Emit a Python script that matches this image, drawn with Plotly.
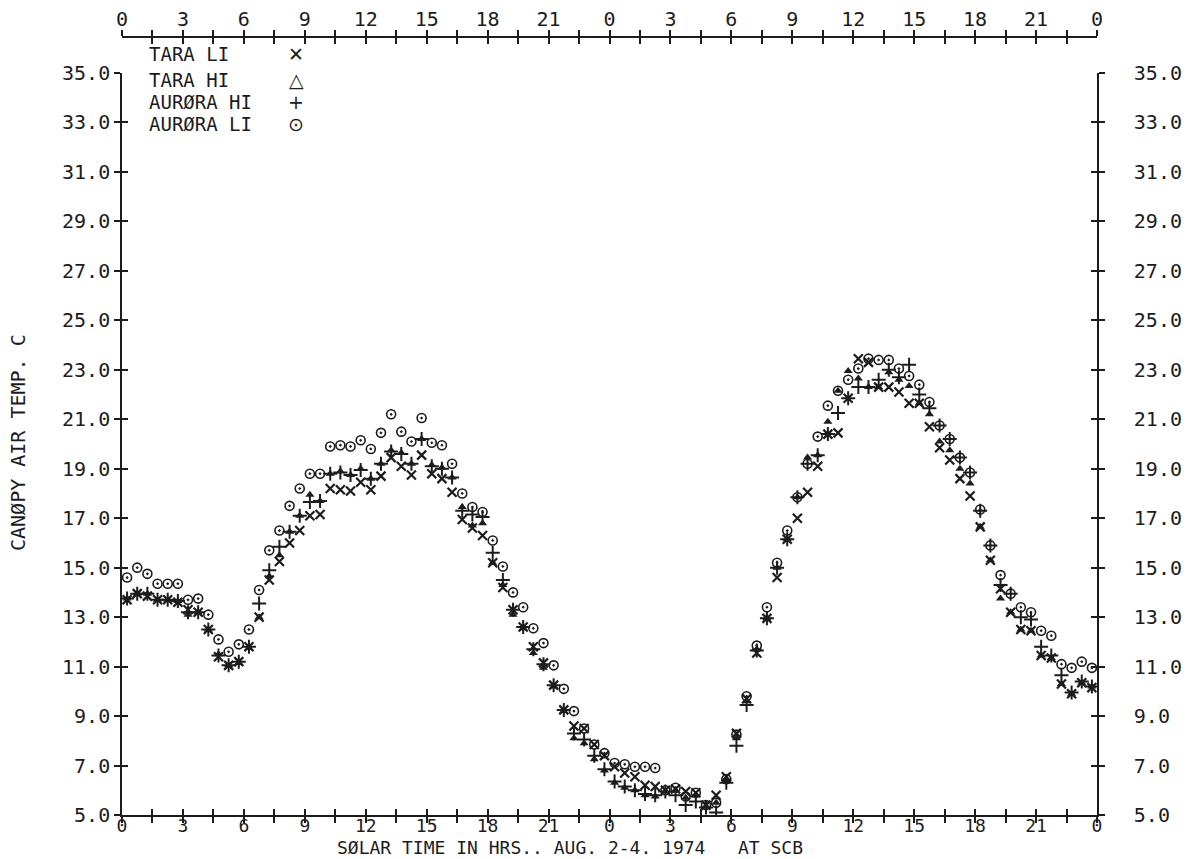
import plotly.graph_objects as go

# ---------------- data ----------------
hours = [0.25, 0.75, 1.25, 1.75, 2.25, 2.75, 3.25, 3.75, 4.25, 4.75,
         5.25, 5.75, 6.25, 6.75, 7.25, 7.75, 8.25, 8.75, 9.25, 9.75,
         10.25, 10.75, 11.25, 11.75, 12.25, 12.75, 13.25, 13.75, 14.25, 14.75,
         15.25, 15.75, 16.25, 16.75, 17.25, 17.75, 18.25, 18.75, 19.25, 19.75,
         20.25, 20.75, 21.25, 21.75, 22.25, 22.75, 23.25, 23.75, 24.25, 24.75,
         25.25, 25.75, 26.25, 26.75, 27.25, 27.75, 28.25, 28.75, 29.25, 29.75,
         30.25, 30.75, 31.25, 31.75, 32.25, 32.75, 33.25, 33.75, 34.25, 34.75,
         35.25, 35.75, 36.25, 36.75, 37.25, 37.75, 38.25, 38.75, 39.25, 39.75,
         40.25, 40.75, 41.25, 41.75, 42.25, 42.75, 43.25, 43.75, 44.25, 44.75,
         45.25, 45.75, 46.25, 46.75, 47.25, 47.75]

tara_li = [13.7, 13.95, 13.85, 13.7, 13.7, 13.6, 13.3, 13.2, 12.5, 11.4,
           11.05, 11.2, 11.8, 13.0, 14.5, 15.25, 16.0, 16.5, 17.1, 17.15,
           18.2, 18.15, 18.1, 18.45, 18.15, 18.7, 19.45, 19.1, 18.75, 19.55,
           18.8, 18.6, 18.05, 16.95, 16.6, 16.3, 15.2, 14.2, 13.3, 12.6,
           11.8, 11.15, 10.25, 9.25, 8.6, 8.5, 7.85, 7.4, 6.95, 6.7,
           6.55, 6.2, 6.15, 6.0, 6.05, 5.95, 5.9, 5.4, 5.8, 6.55,
           8.3, 9.7, 11.55, 12.95, 14.6, 16.15, 17.0, 18.05, 19.1, 20.4,
           20.45, 21.85, 23.45, 23.3, 22.3, 22.3, 22.1, 21.65, 21.65, 20.7,
           19.85, 19.35, 18.6, 17.9, 16.65, 15.3, 14.15, 13.2, 12.5, 12.45,
           11.45, 11.35, 10.3, 9.9, 10.35, 10.15]

tara_hi = [13.75, 13.95, 13.95, 13.7, 13.7, 13.65, 13.1, 13.2, 12.5, 11.5,
           11.05, 11.15, 11.75, 13.0, 14.65, 15.5, 16.45, 17.1, 17.95, 17.7,
           18.8, 18.9, 18.75, 19.0, 18.6, 19.2, 19.75, 19.65, 19.2, 20.2,
           19.15, 19.05, 18.65, 17.45, 16.7, 16.8, 15.2, 14.3, 13.1, 12.55,
           11.55, 10.95, 10.2, 9.2, 8.1, 7.9, 7.25, 6.8, 6.3, 6.1,
           6.0, 5.8, 5.75, 5.95, 6.0, 5.7, 5.8, 5.35, 5.5, 6.4,
           8.1, 9.6, 11.7, 12.95, 15.0, 16.15, 17.85, 19.45, 19.55, 20.9,
           22.15, 22.95, 22.65, 22.3, 22.3, 22.9, 22.6, 22.35, 21.65, 21.2,
           20.1, 19.75, 19.0, 18.4, 16.65, 15.3, 13.75, 13.2, 12.5, 12.45,
           11.45, 11.35, 10.3, 9.9, 10.35, 10.2]

aurora_hi = [13.75, 13.95, 13.95, 13.7, 13.7, 13.65, 13.2, 13.2, 12.5, 11.45,
             11.05, 11.2, 11.8, 13.55, 14.9, 15.85, 16.45, 17.1, 17.65, 17.7,
             18.8, 18.85, 18.75, 18.95, 18.6, 19.2, 19.7, 19.6, 19.2, 20.2,
             19.1, 19.0, 18.65, 17.3, 17.15, 17.05, 15.6, 14.5, 13.3, 12.6,
             11.7, 11.1, 10.25, 9.25, 8.3, 8.05, 7.4, 6.85, 6.35, 6.15,
             6.0, 5.85, 5.8, 5.95, 5.8, 5.4, 5.55, 5.3, 5.1, 6.3,
             7.8, 9.45, 11.65, 12.95, 15.0, 16.15, 17.85, 19.2, 19.55, 20.4,
             21.25, 21.85, 22.3, 22.3, 22.6, 23.0, 22.7, 23.2, 22.0, 21.45,
             20.75, 20.2, 19.45, 18.85, 17.3, 15.9, 14.3, 13.95, 13.0, 12.9,
             11.8, 11.45, 10.65, 9.95, 10.4, 10.2]

aurora_li = [14.6, 15.0, 14.75, 14.35, 14.35, 14.35, 13.7, 13.75, 13.1, 12.1,
             11.6, 11.9, 12.5, 14.1, 15.7, 16.5, 17.5, 18.2, 18.8, 18.8,
             19.9, 19.95, 19.9, 20.15, 19.8, 20.45, 21.2, 20.5, 20.1, 21.05,
             20.05, 19.95, 19.2, 18.0, 17.45, 17.25, 16.1, 15.05, 14.0, 13.4,
             12.55, 11.95, 11.05, 10.1, 9.2, 8.5, 7.85, 7.5, 7.1, 7.05,
             6.95, 6.95, 6.9, 6.0, 6.1, 5.75, 5.9, 5.4, 5.5, 6.45,
             8.25, 9.8, 11.85, 13.4, 15.2, 16.5, 17.85, 19.2, 20.3, 21.55,
             22.15, 22.6, 23.05, 23.45, 23.4, 23.4, 23.05, 22.75, 22.4, 21.7,
             20.75, 20.2, 19.45, 18.85, 17.35, 15.9, 14.7, 13.95, 13.4, 13.2,
             12.45, 12.25, 11.1, 10.95, 11.2, 10.95]

x_tick_vals = [0, 1.5, 3, 4.5, 6, 7.5, 9, 10.5, 12, 13.5, 15, 16.5, 18, 19.5, 21, 22.5,
               24, 25.5, 27, 28.5, 30, 31.5, 33, 34.5, 36, 37.5, 39, 40.5, 42, 43.5, 45, 46.5, 48]
x_tick_text = ["0", "", "3", "", "6", "", "9", "", "12", "", "15", "", "18", "", "21", "",
               "0", "", "3", "", "6", "", "9", "", "12", "", "15", "", "18", "", "21", "", "0"]
y_tick_vals = [5, 7, 9, 11, 13, 15, 17, 19, 21, 23, 25, 27, 29, 31, 33, 35]

series_names = ["TARA LI", "TARA HI", "AURØRA HI", "AURØRA LI"]
legend_glyphs = ["✕", "△", "+", "⊙"]

x_title = "SØLAR TIME IN HRS.. AUG. 2-4. 1974   AT SCB"
y_title = "CANØPY AIR TEMP. C"

# ---------------- styling ----------------
INK = "#1c1c1c"
FONT = "DejaVu Sans Mono"
FS = 20
FS_BOTTOM = 18
FS_LEGEND = 19

fig = go.Figure()

fig.add_trace(go.Scatter(x=hours, y=tara_li, mode="markers", name=series_names[0],
                         marker=dict(symbol="x-thin-open", size=9, color=INK,
                                     line=dict(width=2.2, color=INK))))
fig.add_trace(go.Scatter(x=hours, y=tara_hi, mode="markers", name=series_names[1],
                         marker=dict(symbol="triangle-up", size=8, color=INK,
                                     line=dict(width=0))))
fig.add_trace(go.Scatter(x=hours, y=aurora_hi, mode="markers", name=series_names[2],
                         marker=dict(symbol="cross-thin-open", size=10, color=INK,
                                     line=dict(width=2, color=INK))))
fig.add_trace(go.Scatter(x=hours, y=aurora_li, mode="markers", name=series_names[3],
                         marker=dict(symbol="circle-open-dot", size=9, color=INK,
                                     line=dict(width=1.6, color=INK))))

# empty helper traces so every auxiliary axis is instantiated
for xa, ya in [("x2", "y"), ("x3", "y"), ("x4", "y"), ("x", "y2"), ("x", "y3"), ("x", "y4")]:
    fig.add_trace(go.Scatter(x=[], y=[], xaxis=xa, yaxis=ya, showlegend=False,
                             hoverinfo="skip", mode="markers"))

# plot geometry
L, R, T, B = 122, 93, 37, 44
plot_h = 859 - T - B
y_top_frac = (815 - 73) / plot_h

common_x = dict(range=[0, 48], tickvals=x_tick_vals, showgrid=False, zeroline=False,
                showline=True, linecolor=INK, linewidth=1.6, tickcolor=INK, tickwidth=1.5,
                ticklen=6, fixedrange=True)
common_y = dict(range=[5, 35], tickvals=y_tick_vals, tickformat=".1f", showgrid=False,
                zeroline=False, showline=True, linecolor=INK, linewidth=1.6, tickcolor=INK,
                tickwidth=1.5, ticklen=6, tickfont=dict(family=FONT, size=FS, color=INK),
                fixedrange=True)

fig.update_layout(
    width=1190, height=859,
    margin=dict(l=L, r=R, t=T, b=B, autoexpand=False),
    paper_bgcolor="white", plot_bgcolor="white",
    showlegend=False,
    # bottom: labelled axis uses inside ticks so labels hug the line; overlay supplies outside half
    xaxis=dict(**common_x, ticks="inside", ticktext=x_tick_text, anchor="y", domain=[0, 1],
               tickfont=dict(family=FONT, size=FS_BOTTOM, color=INK), ticklabelstandoff=-6),
    xaxis3=dict(**common_x, ticks="outside", showticklabels=False, overlaying="x", anchor="y"),
    xaxis2=dict(**common_x, ticks="outside", ticktext=x_tick_text, side="top",
                overlaying="x", anchor="free", position=1, ticklabelstandoff=-4,
                tickfont=dict(family=FONT, size=FS, color=INK)),
    xaxis4=dict(**common_x, ticks="inside", showticklabels=False, side="top",
                overlaying="x", anchor="free", position=1),
    yaxis=dict(**common_y, ticks="outside", anchor="x", domain=[0, y_top_frac]),
    yaxis3=dict(**common_y, ticks="inside", showticklabels=False, overlaying="y", anchor="x"),
    yaxis2=dict(**common_y, ticks="outside", side="right", overlaying="y", anchor="x",
                ticklabelstandoff=25),
    yaxis4=dict(**common_y, ticks="inside", showticklabels=False, side="right",
                overlaying="y", anchor="x"),
)

def px_to_paper_x(px):
    return (px - L) / (1190 - L - R)

def px_to_paper_y(py):
    return (859 - B - py) / plot_h

annos = []
legend_rows = [54, 80, 102, 124]
for name, glyph, row in zip(series_names, legend_glyphs, legend_rows):
    annos.append(dict(x=px_to_paper_x(147), y=px_to_paper_y(row), xref="paper", yref="paper",
                      text=name, showarrow=False, xanchor="left", yanchor="middle",
                      font=dict(family=FONT, size=FS_LEGEND, color=INK)))
    annos.append(dict(x=px_to_paper_x(296), y=px_to_paper_y(row), xref="paper", yref="paper",
                      text=glyph, showarrow=False, xanchor="center", yanchor="middle",
                      font=dict(family="DejaVu Sans", size=FS_LEGEND, color=INK)))

annos.append(dict(x=px_to_paper_x(570), y=px_to_paper_y(848), xref="paper", yref="paper",
                  text=x_title, showarrow=False, xanchor="center", yanchor="middle",
                  font=dict(family=FONT, size=FS_BOTTOM, color=INK)))
annos.append(dict(x=px_to_paper_x(18), y=px_to_paper_y(443), xref="paper", yref="paper",
                  text=y_title, showarrow=False, textangle=-90, xanchor="center",
                  yanchor="middle", font=dict(family=FONT, size=FS, color=INK)))
fig.update_layout(annotations=annos)

fig.write_html("out.html", config={"displayModeBar": False},
               post_script="document.body.style.margin='0';document.body.style.overflow='hidden';")
